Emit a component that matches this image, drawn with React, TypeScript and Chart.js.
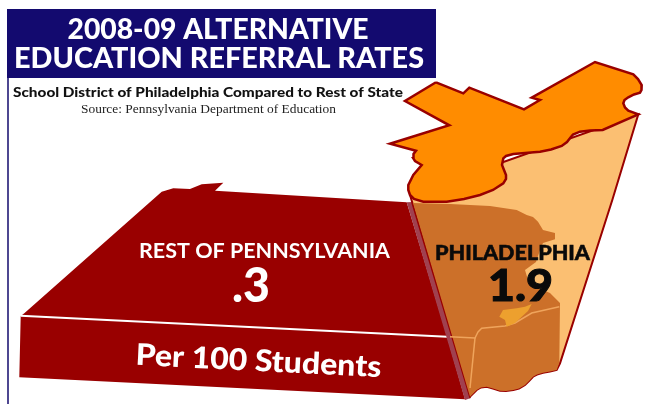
import React, { useEffect, useRef } from "react";
import { Chart, registerables } from "chart.js";

Chart.register(...registerables);

type P = [number, number];

const titleLines = ["2008-09 ALTERNATIVE", "EDUCATION REFERRAL RATES"];
const subtitle = "School District of Philadelphia Compared to Rest of State";
const source = "Source: Pennsylvania Department of Education";
const regions = ["REST OF PENNSYLVANIA", "PHILADELPHIA"];
const rates = [".3", "1.9"];
const unitLabel = "Per 100 Students";

const headerBox: P[] = [[7, 9], [436, 9], [436, 78], [7, 78], [7, 9]];
const sideRule: P[] = [[8, 78], [8, 404]];
const restOfState: P[] = [
  [161.7, 191.7], [173.3, 188.3], [190, 189], [201.7, 184.3], [223.3, 182.7], [215, 190.7],
  [406.7, 202.3], [447, 336], [465, 399.3], [19.3, 377.3], [20.7, 316], [24.3, 313.3], [161.7, 191.7],
];
const seam: P[] = [[406.7, 202.3], [412.5, 202], [471, 398], [465, 400], [406.7, 202.3]];
const whiteRule: P[] = [[20.7, 315.7], [447, 336.7]];
const cone: P[] = [
  [410, 195], [638.3, 114.3], [612.3, 200], [560, 363.3], [556.7, 370], [550, 371.5], [543, 372.7],
  [537, 374.5], [533, 376.7], [529, 381], [525, 385], [519, 388.5], [513.3, 390], [506, 391], [500, 390.7],
  [493, 388.5], [486.7, 386.7], [481, 387.5], [476.7, 390], [470, 396.7], [410, 195],
];
const stateOutline: P[] = [
  [413, 203], [450, 204], [490, 206], [516.7, 210], [526.7, 215], [533, 217], [538, 221.7], [543, 230], [555, 233],
  [555, 239.3], [543, 243], [540, 250], [536, 262], [525, 270], [528, 280], [538, 288], [550, 293], [560, 303],
  [559.3, 363], [556.7, 370], [550, 371.5], [543, 372.7], [537, 374.5], [533, 376.7], [529, 381], [525, 385],
  [519, 388.5], [513.3, 390], [506, 391], [500, 390.7], [493, 388.5], [486.7, 386.7], [481, 387.5], [476.7, 390],
  [470, 396.7], [413, 203],
];
const countyLine: P[] = [[450, 336.7], [475, 338], [478, 332], [481.7, 328.3], [505, 326], [515, 323], [531.7, 313], [559.3, 306.7]];
const countyEdge: P[] = [[475, 338], [470, 388]];
const cityArea: P[] = [
  [531.7, 304], [528, 311], [515, 323], [506.7, 326.7], [505, 320], [499.3, 316.7], [503, 310], [516.7, 308.3],
  [525, 306.7], [531.7, 304],
];
const cityTop: P[] = [
  [436, 82.3], [463.3, 93.3], [469.3, 87.7], [524, 109.3], [540, 100], [531.7, 97.7], [595, 62], [633.3, 74.3],
  [638, 79], [641.7, 85], [641.5, 90], [640, 92.7], [634, 94.5], [628.3, 97.3], [624.5, 100], [623.3, 103.3], [625, 107.5], [628.3, 110.7],
  [638.3, 114.3], [602.7, 130], [590, 130.5], [580, 131.7], [573, 134.5], [570.7, 137.3], [567, 142], [561.7, 146], [551, 149.5], [540, 151.7],
  [525, 153], [513.3, 154], [506, 156], [503.3, 158.3], [502, 165], [504, 170], [506, 175], [506, 179], [503.3, 183.3], [493, 190], [480, 195],
  [464, 199], [446.7, 201.7], [423.3, 201.7], [414, 199], [410, 195], [408.3, 190], [408.3, 185], [413.3, 175], [421.7, 165],
  [415, 161], [413.3, 158.3], [413.5, 154], [416, 150.7], [390, 143.7], [449.3, 125.3], [405, 101], [436, 82.3],
];

const pts = (a: P[]) => a.map(([x, y]) => ({ x, y }));
const shape = (a: P[], fill: string, border = "rgba(0,0,0,0)", width = 0) => ({
  data: pts(a),
  showLine: true,
  fill: "shape",
  backgroundColor: fill,
  borderColor: border,
  borderWidth: width,
  borderJoinStyle: "miter",
  pointRadius: 0,
  tension: 0,
  clip: false,
});
const stroke = (a: P[], color: string, width: number) => ({
  data: pts(a),
  showLine: true,
  fill: false,
  borderColor: color,
  borderWidth: width,
  pointRadius: 0,
  tension: 0,
  clip: false,
});

const textPlugin = {
  id: "texts",
  afterDatasetsDraw(chart: any) {
    const { ctx, scales } = chart;
    const X = (v: number) => scales.x.getPixelForValue(v);
    const Y = (v: number) => scales.y.getPixelForValue(v);
    const put = (t: string, x: number, y: number, font: string, color: string, w: number, rot = 0, heavy = 0) => {
      ctx.save();
      ctx.translate(X(x), Y(y));
      ctx.rotate(rot);
      ctx.font = font;
      ctx.fillStyle = color;
      ctx.strokeStyle = color;
      ctx.textAlign = "center";
      ctx.textBaseline = "alphabetic";
      ctx.scale(w / ctx.measureText(t).width, 1);
      if (heavy) {
        ctx.lineWidth = heavy;
        ctx.strokeText(t, 0, 0);
      }
      ctx.fillText(t, 0, 0);
      ctx.restore();
    };
    put(titleLines[0], 218, 39, '900 29px Lato', "#ffffff", 301);
    put(titleLines[1], 219, 68, '900 29px Lato', "#ffffff", 410);
    put(subtitle, 208, 97, '900 14px Lato', "#111111", 390);
    put(source, 208.5, 113, '13px "Liberation Serif"', "#222222", 255);
    put(regions[0], 264.5, 258, '700 20px Lato', "#ffffff", 251);
    put(rates[0], 251, 302, '900 47px Lato', "#ffffff", 38);
    put(unitLabel, 258, 371, '900 30px Lato', "#ffffff", 246, 0.05);
    put(regions[1], 512.5, 260, '900 20px Lato', "#0a0a0a", 155, 0, 0.5);
    put(rates[1], 520.5, 301, '900 44px Lato', "#0a0a0a", 65, 0, 1);
  },
};

export default function App() {
  const ref = useRef<HTMLCanvasElement>(null);
  useEffect(() => {
    const chart = new Chart(ref.current!, {
      type: "scatter",
      data: {
        datasets: [
          stroke(sideRule, "#140b6e", 1.5),
          shape(headerBox, "#130a6f"),
          shape(cityTop, "#ff8c00", "#990000", 2.5),
          shape(cityArea, "#eda02e"),
          stroke(countyEdge, "#efa45c", 1.5),
          stroke(countyLine, "#efa45c", 1.5),
          shape(stateOutline, "#cc7029"),
          shape(cone, "#fbbf72", "#990000", 2),
          shape(seam, "#a0404f"),
          stroke(whiteRule, "#ffffff", 2),
          shape(restOfState, "#990000"),
        ] as any,
      },
      options: {
        animation: false,
        responsive: false,
        devicePixelRatio: 1,
        layout: { padding: 0 },
        plugins: { legend: { display: false }, tooltip: { enabled: false }, title: { display: false } },
        scales: {
          x: { type: "linear", min: 0, max: 652, display: false },
          y: { type: "linear", min: 0, max: 404, reverse: true, display: false },
        },
      } as any,
      plugins: [textPlugin],
    });
    return () => chart.destroy();
  }, []);
  return (
    <canvas
      ref={ref}
      width={652}
      height={404}
      style={{ position: "fixed", left: 0, top: 0, width: 652, height: 404, display: "block" }}
    />
  );
}
